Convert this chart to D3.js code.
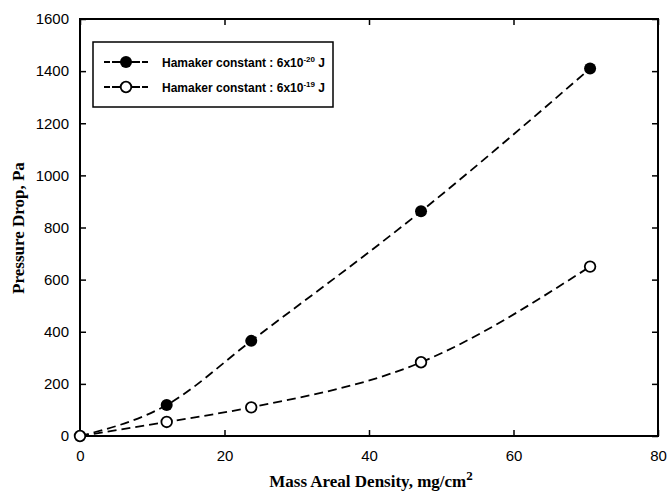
<!DOCTYPE html>
<html><head><meta charset="utf-8">
<script src="https://cdn.jsdelivr.net/npm/d3@7"></script>
<style>
body{margin:0;background:#fff;}
svg{display:block;}
</style></head>
<body>
<svg id="chart" width="668" height="495"></svg>
<script>
const massDensity = [0, 12, 23.7, 47.2, 70.6];
const seriesFilled = [0, 119, 365, 862, 1410];
const seriesOpen = [0, 54, 110, 283, 650];
const xTicks = [0, 20, 40, 60, 80];
const yTicks = [0, 200, 400, 600, 800, 1000, 1200, 1400, 1600];
const legendLabels = ["-20", "-19"];

const svg = d3.select("#chart");
const L = 80, R = 658, T = 19, B = 436;
const x = d3.scaleLinear().domain([0, 80]).range([L, R]);
const y = d3.scaleLinear().domain([0, 1600]).range([B, T]);
const fmt = d3.format("d");

const tickFont = "'Liberation Sans', Arial, sans-serif";
const gx = svg.append("g").attr("transform", `translate(0,${B})`)
  .call(d3.axisBottom(x).tickValues(xTicks).tickFormat(fmt).tickSizeInner(-6).tickSizeOuter(0).tickPadding(14));
const gy = svg.append("g").attr("transform", `translate(${L},0)`)
  .call(d3.axisLeft(y).tickValues(yTicks).tickFormat(fmt).tickSizeInner(-6).tickSizeOuter(0).tickPadding(11));
const gt = svg.append("g").attr("transform", `translate(0,${T})`)
  .call(d3.axisTop(x).tickValues(xTicks).tickSizeInner(-6).tickSizeOuter(0).tickFormat(""));
const gr = svg.append("g").attr("transform", `translate(${R},0)`)
  .call(d3.axisRight(y).tickValues(yTicks).tickSizeInner(-6).tickSizeOuter(0).tickFormat(""));
[gx, gy, gt, gr].forEach(g => {
  g.select(".domain").remove();
  g.selectAll(".tick line").attr("stroke", "#000").attr("stroke-width", 1.5);
  g.selectAll("text").attr("font-family", tickFont).attr("font-size", 15).attr("fill", "#000");
});

svg.append("rect").attr("x", L).attr("y", T).attr("width", R - L).attr("height", B - T)
  .attr("fill", "none").attr("stroke", "#000").attr("stroke-width", 2);

const line = d3.line().x(d => x(d[0])).y(d => y(d[1])).curve(d3.curveMonotoneX);
const dataF = massDensity.map((m, i) => [m, seriesFilled[i]]);
const dataO = massDensity.map((m, i) => [m, seriesOpen[i]]);
[dataF, dataO].forEach(d => {
  svg.append("path").datum(d).attr("d", line).attr("fill", "none")
    .attr("stroke", "#000").attr("stroke-width", 1.8).attr("stroke-dasharray", "9,5");
});
svg.selectAll(".mo").data(dataO).enter().append("circle")
  .attr("cx", d => x(d[0])).attr("cy", d => y(d[1])).attr("r", 5.3)
  .attr("fill", "#fff").attr("stroke", "#000").attr("stroke-width", 1.8);
svg.selectAll(".mf").data(dataF.slice(1)).enter().append("circle")
  .attr("cx", d => x(d[0])).attr("cy", d => y(d[1])).attr("r", 6)
  .attr("fill", "#000");

// legend
const lg = svg.append("g");
lg.append("rect").attr("x", 93).attr("y", 42).attr("width", 240).attr("height", 65)
  .attr("fill", "#fff").attr("stroke", "#000").attr("stroke-width", 1.5);
const rows = [62, 87];
rows.forEach((ry, i) => {
  lg.append("line").attr("x1", 104).attr("x2", 148).attr("y1", ry).attr("y2", ry)
    .attr("stroke", "#000").attr("stroke-width", 1.8).attr("stroke-dasharray", "6,2,28,2,6");
  if (i === 0) lg.append("circle").attr("cx", 126).attr("cy", ry).attr("r", 6).attr("fill", "#000");
  else lg.append("circle").attr("cx", 126).attr("cy", ry).attr("r", 5.3).attr("fill", "#fff")
    .attr("stroke", "#000").attr("stroke-width", 1.8);
  const t = lg.append("text").attr("x", 162).attr("y", ry + 4.5)
    .attr("font-family", tickFont).attr("font-weight", "bold").attr("font-size", 12).attr("fill", "#000");
  t.append("tspan").text("Hamaker constant : 6x10");
  t.append("tspan").attr("dy", -5).attr("font-size", 8).text(legendLabels[i]);
  t.append("tspan").attr("dy", 5).text(" J");
});

const serif = "'Liberation Serif', 'Times New Roman', serif";
const xt = svg.append("text").attr("x", 371).attr("y", 487).attr("text-anchor", "middle")
  .attr("font-family", serif).attr("font-weight", "bold").attr("font-size", 17).attr("fill", "#000");
xt.append("tspan").text("Mass Areal Density, mg/cm");
xt.append("tspan").attr("dy", -7).attr("font-size", 13).text("2");

svg.append("text").attr("transform", "translate(24,228) rotate(-90)").attr("text-anchor", "middle")
  .attr("font-family", serif).attr("font-weight", "bold").attr("font-size", 17).attr("fill", "#000")
  .text("Pressure Drop, Pa");
</script>
</body></html>
